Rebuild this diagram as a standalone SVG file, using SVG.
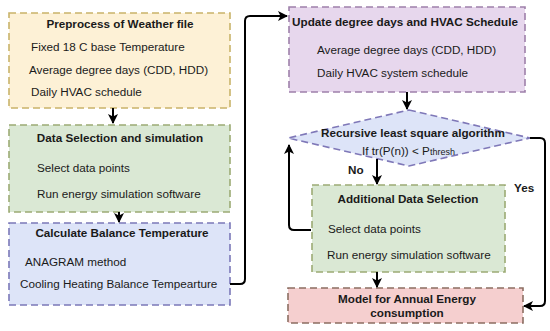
<svg xmlns="http://www.w3.org/2000/svg" width="550" height="331" viewBox="0 0 550 331">
<defs>
<marker id="ah" viewBox="0 0 10 10" refX="9" refY="5" markerWidth="5" markerHeight="5" markerUnits="strokeWidth" orient="auto">
<path d="M0,0 L10,5 L0,10 L2.5,5 z" fill="#000"/>
</marker>
<style>
text{font-family:"Liberation Sans",Arial,Helvetica,sans-serif;font-size:11.7px;fill:#1a1a1a}
.b{font-weight:bold}
.c{text-anchor:middle}
.box{stroke-width:1.6;stroke-dasharray:7 4}
.con{fill:none;stroke:#000;stroke-width:2;marker-end:url(#ah)}
</style>
</defs>
<rect width="550" height="331" fill="#fff"/>
<g id="preprocess">
<rect class="box" x="9" y="13" width="221" height="95" fill="#fdf1d6" stroke="#c9b36a"/>
<text class="b c" x="120" y="28">Preprocess of Weather file</text>
<text x="31" y="51">Fixed 18 C base Temperature</text>
<text x="29" y="74">Average degree days (CDD, HDD)</text>
<text x="31" y="96">Daily HVAC schedule</text>
</g>
<g id="dataselection">
<rect class="box" x="9" y="125" width="221" height="87" fill="#dae8d4" stroke="#9cab74"/>
<text class="b c" x="120" y="142">Data Selection and simulation</text>
<text x="37" y="172">Select data points</text>
<text x="37" y="198">Run energy simulation software</text>
</g>
<g id="balance">
<rect class="box" x="9" y="223" width="221" height="82" fill="#dde4f8" stroke="#7b78b8"/>
<text class="b c" x="122" y="237">Calculate Balance Temperature</text>
<text x="25" y="266">ANAGRAM method</text>
<text x="20" y="288">Cooling Heating Balance Tempearture</text>
</g>
<g id="update">
<rect class="box" x="289" y="7" width="236" height="85" fill="#e7d7ed" stroke="#9e80aa"/>
<text class="b c" x="405" y="26">Update degree days and HVAC Schedule</text>
<text x="317" y="54">Average degree days (CDD, HDD)</text>
<text x="317" y="77">Daily HVAC system schedule</text>
</g>
<g id="rls">
<polygon class="box" points="409,110 530,138 409,166 288,138" fill="#dde4f8" stroke="#7f78b8"/>
<text class="b c" x="413" y="137">Recursive least square algorithm</text>
<text x="362" y="155">If tr(P(n)) &lt; P<tspan font-size="9px">thresh</tspan></text>
</g>
<g id="additional">
<rect class="box" x="312" y="185" width="193" height="87" fill="#dae8d4" stroke="#9cab74"/>
<text class="b c" x="408" y="203">Additional Data Selection</text>
<text x="328" y="233">Select data points</text>
<text x="327" y="259">Run energy simulation software</text>
</g>
<g id="model">
<rect class="box" x="288" y="288" width="235" height="35" fill="#f5cfcf" stroke="#8c6e62"/>
<text class="b c" x="407" y="303">Model for Annual Energy</text>
<text class="b c" x="407" y="317">consumption</text>
</g>
<g id="connectors">
<line class="con" x1="113" y1="108" x2="113" y2="123"/>
<line class="con" x1="119" y1="212" x2="119" y2="222"/>
<path class="con" d="M230,284 H240 Q245,284 245,279 V21 Q245,16 250,16 H287"/>
<line class="con" x1="407" y1="92" x2="407" y2="109"/>
<line class="con" x1="377" y1="159" x2="377" y2="184"/>
<path class="con" d="M311,230 H294 Q289,230 289,225 V145"/>
<path class="con" d="M530,138 H540 Q545,138 545,143 V301 Q545,306 540,306 H524"/>
<line class="con" x1="377" y1="272" x2="377" y2="287"/>
<text class="b" x="348" y="174">No</text>
<text class="b" x="514" y="192">Yes</text>
</g>
</svg>
